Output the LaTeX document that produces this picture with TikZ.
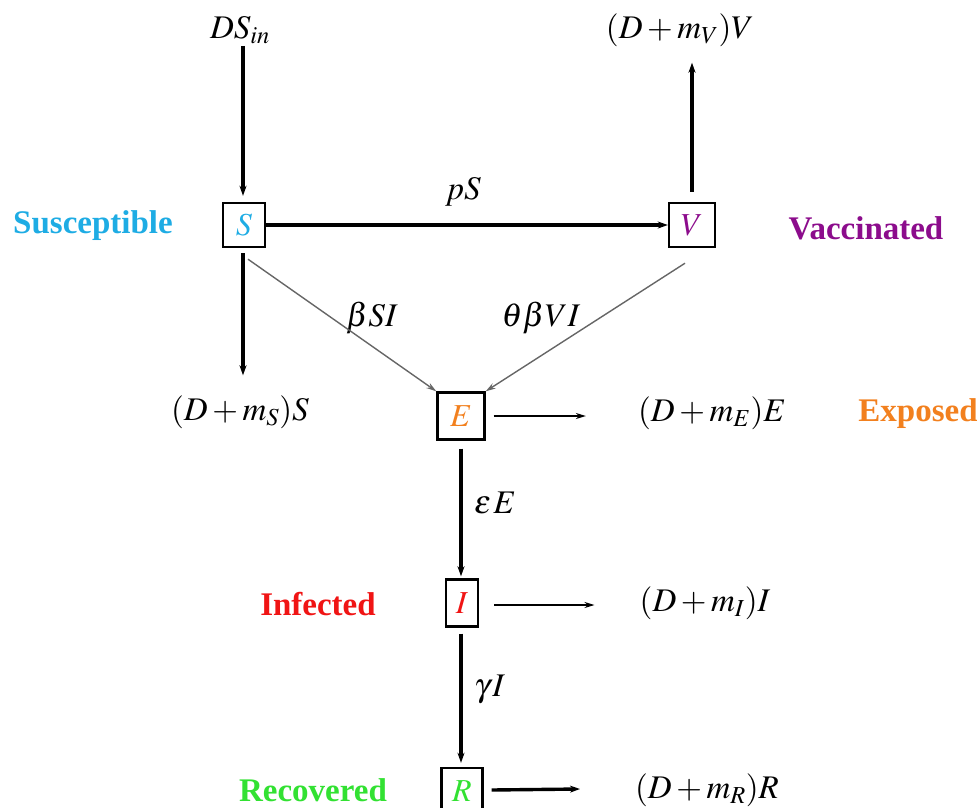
\documentclass[tikz,border=0pt]{standalone}
\usepackage{mathptmx}
\usepackage{fontspec}
\setmainfont{Liberation Serif}
\usetikzlibrary{arrows.meta,calc}
\definecolor{cS}{RGB}{30,172,228}
\definecolor{cV}{RGB}{140,12,140}
\definecolor{cE}{RGB}{242,128,30}
\definecolor{cI}{RGB}{240,20,20}
\definecolor{cR}{RGB}{50,225,50}
\tikzset{
  box/.style={draw,line width=2.4pt,inner sep=0pt,font=\fontsize{32}{38}\selectfont},
  mtext/.style={font=\fontsize{33}{40}\selectfont,inner sep=2pt},
  lab/.style={font=\fontsize{33}{40}\selectfont\bfseries,inner sep=0pt},
  thickarr/.style={line width=3.4pt,-{Stealth[length=10pt,width=7pt]}},
  thinarr/.style={line width=2pt,-{Stealth[length=10pt,width=6pt]}},
  greyarr/.style={line width=1.4pt,draw=black!60,-{Stealth[length=10pt,width=6pt]}},
}
\begin{document}
\begin{tikzpicture}[x=1pt,y=-1pt]
\useasboundingbox (0,0) rectangle (977,807);
\clip (0,0) rectangle (977,807);
% boxes
\node[box,minimum width=42pt,minimum height=44pt] (S) at (244,225) {\color{cS}$S$};
\node[box,minimum width=46pt,minimum height=44pt] (V) at (692,225) {\color{cV}$V$};
\node[box,minimum width=47pt,minimum height=47pt] (E) at (461,416) {\color{cE}$E$};
\node[box,minimum width=32pt,minimum height=47pt] (I) at (462,603) {\color{cI}$I$};
\node[box,minimum width=41pt,minimum height=46pt] (R) at (462,791) {\color{cR}$R$};
% state labels
\node[lab,text=cS] (lS) at (93,226) {Susceptible};
\node[lab,text=cV] (lV) at (866,228) {Vaccinated};
\node[lab,text=cE] (lE) at (918,414) {Exposed};
\node[lab,text=cI] (lI) at (318,604) {Infected};
\node[lab,text=cR] (lR) at (313,790) {Recovered};
% flow texts
\node[mtext] (in) at (240,30) {$DS_{in}$};
\node[mtext] (mV) at (680,30) {$(D+m_V)V$};
\node[mtext] (mS) at (240,412) {$(D+m_S)S$};
\node[mtext] (mE) at (712,413) {$(D+m_E)E$};
\node[mtext] (mI) at (705,603) {$(D+m_I)I$};
\node[mtext] (mR) at (707,790) {$(D+m_R)R$};
% rate labels
\node[mtext] (pS) at (463,192) {$pS$};
\node[mtext] (bSI) at (372,318) {$\beta SI$};
\node[mtext] (tbVI) at (541,318) {$\theta\beta V I$};
\node[mtext,anchor=west] (eE) at (472,503) {$\varepsilon\mkern1mu E$};
\node[mtext,anchor=west] (gI) at (472,689) {$\gamma\mkern1mu I$};
% arrows
\draw[thickarr] ($(in.south)+(3,0)$) -- ($(S.north)+(-1,-6)$);
\draw[thickarr] (V.north) ++(0,-10) coordinate (vtop) (vtop) -- ($(mV.south)+(12,14)$);
\draw[thickarr] (S.east) -- (V.west);
\draw[thickarr] ($(S.south)+(-1,5)$) -- ($(mS.north)+(3,-18)$);
\draw[greyarr] ($(S.south)+(4,11)$) -- (E.north west);
\draw[greyarr] ($(V.south)+(-7,15)$) -- (E.north east);
\draw[thinarr] ($(E.east)+(8,0)$) -- ($(mE.west)+(-50,3)$);
\draw[thickarr] ($(E.south)+(0,8)$) -- ($(I.north)+(-1,-2)$);
\draw[thinarr] ($(I.east)+(15,2)$) -- ($(mI.west)+(-43,2)$);
\draw[thickarr] ($(I.south)+(-1,6)$) -- ($(R.north)+(-1,-4)$);
\draw[thickarr] ($(R.east)+(8,-1)$) -- ($(mR.west)+(-53,-1)$);
\end{tikzpicture}
\end{document}
